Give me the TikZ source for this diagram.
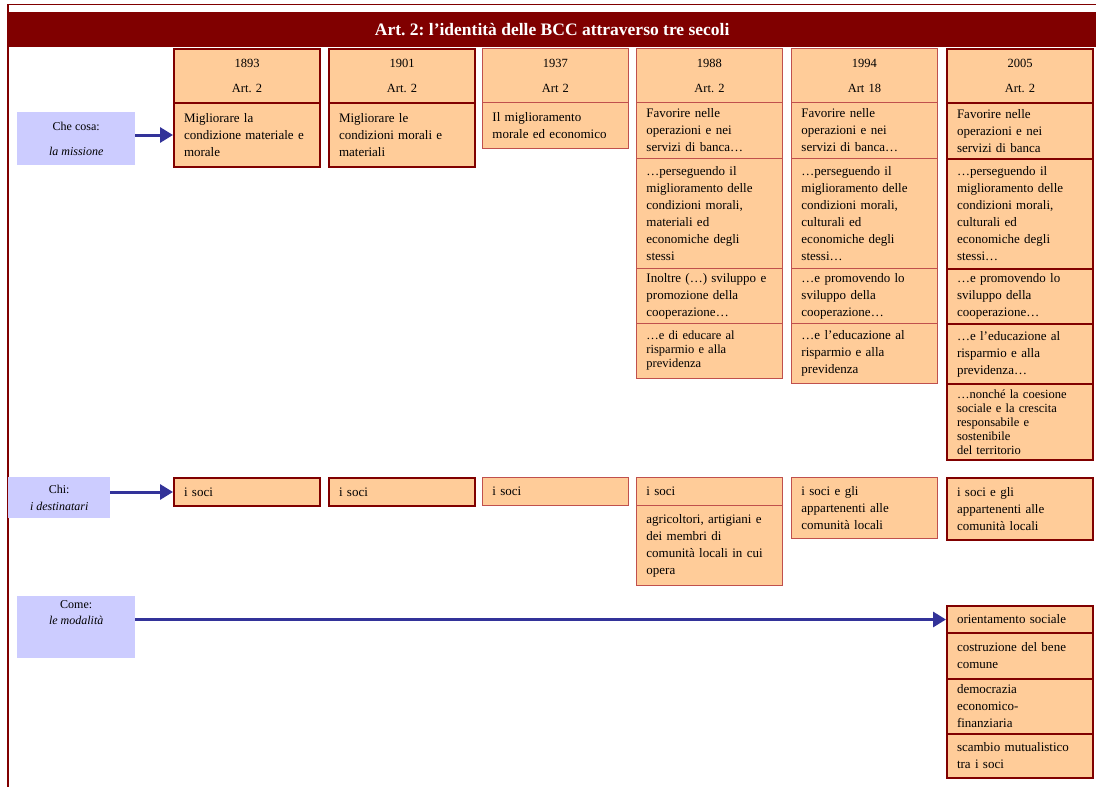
\documentclass[tikz,border=0pt]{standalone}
\usepackage{fontspec}
\setmainfont{Liberation Serif}
\usetikzlibrary{arrows.meta}
\definecolor{darkred}{RGB}{128,0,0}
\definecolor{lightred}{RGB}{192,80,77}
\definecolor{boxfill}{RGB}{255,204,153}
\definecolor{lav}{RGB}{204,204,255}
\definecolor{navy}{RGB}{51,51,153}
\begin{document}
\frenchspacing
\begin{tikzpicture}[x=1pt,y=-1pt,
  cell/.style={fill=boxfill, anchor=north west, inner xsep=10pt, inner ysep=0pt, align=left,
    font=\fontsize{13}{17}\selectfont, minimum width=146pt, text width=126pt},
  thk/.style={cell, draw=darkred, line width=2pt},
  thn/.style={cell, draw=lightred, line width=0.9pt},
  hd/.style={align=center, font=\fontsize{12.5}{17}\selectfont},
  tight/.style={font=\fontsize{12.5}{14}\selectfont},
  lab/.style={fill=lav, anchor=north west, inner sep=0pt, align=center, font=\fontsize{12}{17}\selectfont},
  arr/.style={draw=navy, line width=3pt, -{Triangle[length=13pt,width=15pt]}}]
\useasboundingbox (0,0) rectangle (1096,787);
\fill[white] (0,0) rectangle (1096,787);
\draw[darkred, line width=1.5pt] (1096,4.5) -- (8,4.5) -- (8,787);
\node[fill=darkred, minimum width=1088pt, minimum height=35pt, anchor=north west, inner sep=0pt,
  text=white, font=\bfseries\fontsize{17.5}{20}\selectfont] (title) at (8,12)
  {Art. 2: l’identità delle BCC attraverso tre secoli};

% headers
\node[thk, hd, minimum height=54pt] (h1) at (173,48) {1893\\[8pt]Art. 2};
\node[thk, hd, minimum height=54pt] (h2) at (328,48) {1901\\[8pt]Art. 2};
\node[thn, hd, minimum height=54pt] (h3) at (482,48) {1937\\[8pt]Art 2};
\node[thn, hd, minimum height=54pt] (h4) at (636,48) {1988\\[8pt]Art. 2};
\node[thn, hd, minimum height=54pt] (h5) at (791,48) {1994\\[8pt]Art 18};
\node[thk, hd, minimum height=54pt] (h6) at (946,48) {2005\\[8pt]Art. 2};

% row 1: la missione
\node[thk, minimum height=64pt] (a1) at (173,102) {Migliorare la\\condizione materiale e\\morale};
\node[thk, minimum height=64pt] (a2) at (328,102) {Migliorare le\\condizioni morali e\\materiali};
\node[thn, minimum height=46pt] (a3) at (482,102) {Il miglioramento\\morale ed economico};

\node[thn, minimum height=56pt] (d4a) at (636,102) {Favorire nelle\\operazioni e nei\\servizi di banca…};
\node[thn, minimum height=110pt] (d4b) at (636,158) {…perseguendo il\\miglioramento delle\\condizioni morali,\\materiali ed\\economiche degli\\stessi};
\node[thn, minimum height=55pt] (d4c) at (636,268) {Inoltre (…) sviluppo e\\promozione della\\cooperazione…};
\node[thn, tight, minimum height=55pt] (d4d) at (636,323) {…e di educare al\\risparmio e alla\\previdenza};

\node[thn, minimum height=56pt] (d5a) at (791,102) {Favorire nelle\\operazioni e nei\\servizi di banca…};
\node[thn, minimum height=110pt] (d5b) at (791,158) {…perseguendo il\\miglioramento delle\\condizioni morali,\\culturali ed\\economiche degli\\stessi…};
\node[thn, minimum height=55pt] (d5c) at (791,268) {…e promovendo lo\\sviluppo della\\cooperazione…};
\node[thn, minimum height=60pt] (d5d) at (791,323) {…e l’educazione al\\risparmio e alla\\previdenza};

\node[thk, minimum height=56pt] (d6a) at (946,102) {Favorire nelle\\operazioni e nei\\servizi di banca};
\node[thk, minimum height=110pt] (d6b) at (946,158) {…perseguendo il\\miglioramento delle\\condizioni morali,\\culturali ed\\economiche degli\\stessi…};
\node[thk, minimum height=55pt] (d6c) at (946,268) {…e promovendo lo\\sviluppo della\\cooperazione…};
\node[thk, minimum height=60pt] (d6d) at (946,323) {…e l’educazione al\\risparmio e alla\\previdenza…};
\node[thk, tight, minimum height=76pt] (d6e) at (946,383) {…nonché la coesione\\sociale e la crescita\\responsabile e\\sostenibile\\del territorio};

% row 2: i destinatari
\node[thk, minimum height=28pt] (s1) at (173,477) {i soci};
\node[thk, minimum height=28pt] (s2) at (328,477) {i soci};
\node[thn, minimum height=28pt] (s3) at (482,477) {i soci};
\node[thn, minimum height=28pt] (s4) at (636,477) {i soci};
\node[thn, minimum height=80pt] (s4b) at (636,505) {agricoltori, artigiani e\\dei membri di\\comunità locali in cui\\opera};
\node[thn, minimum height=61pt] (s5) at (791,477) {i soci e gli\\appartenenti alle\\comunità locali};
\node[thk, minimum height=62pt] (s6) at (946,477) {i soci e gli\\appartenenti alle\\comunità locali};

% row 3: le modalità
\node[thk, minimum height=27pt] (m1) at (946,605) {orientamento sociale};
\node[thk, minimum height=46pt] (m2) at (946,632) {costruzione del bene\\comune};
\node[thk, minimum height=55pt] (m3) at (946,678) {democrazia\\economico-\\finanziaria};
\node[thk, minimum height=44pt] (m4) at (946,733) {scambio mutualistico\\tra i soci};

% left labels
\node[lab, minimum width=118pt, minimum height=53pt] (lab1) at (17,112) {Che cosa:\\[8pt]\textit{la missione}};
\node[lab, minimum width=102pt, minimum height=41pt] (lab2) at (8,477) {Chi:\\\textit{i destinatari}};
\node[lab, minimum width=118pt, minimum height=62pt,
  label={[anchor=north, yshift=-4pt, align=center, inner sep=0pt, font=\fontsize{12}{16}\selectfont]north:{Come:\\\textit{le modalità}}}] (lab3) at (17,596) {};

% arrows
\draw[arr] (lab1.east |- a1.west) -- (a1.west);
\draw[arr] (lab2.east |- s1.west) -- (s1.west);
\draw[arr] (lab3.east |- m1.west) -- (m1.west);
\end{tikzpicture}
\end{document}
